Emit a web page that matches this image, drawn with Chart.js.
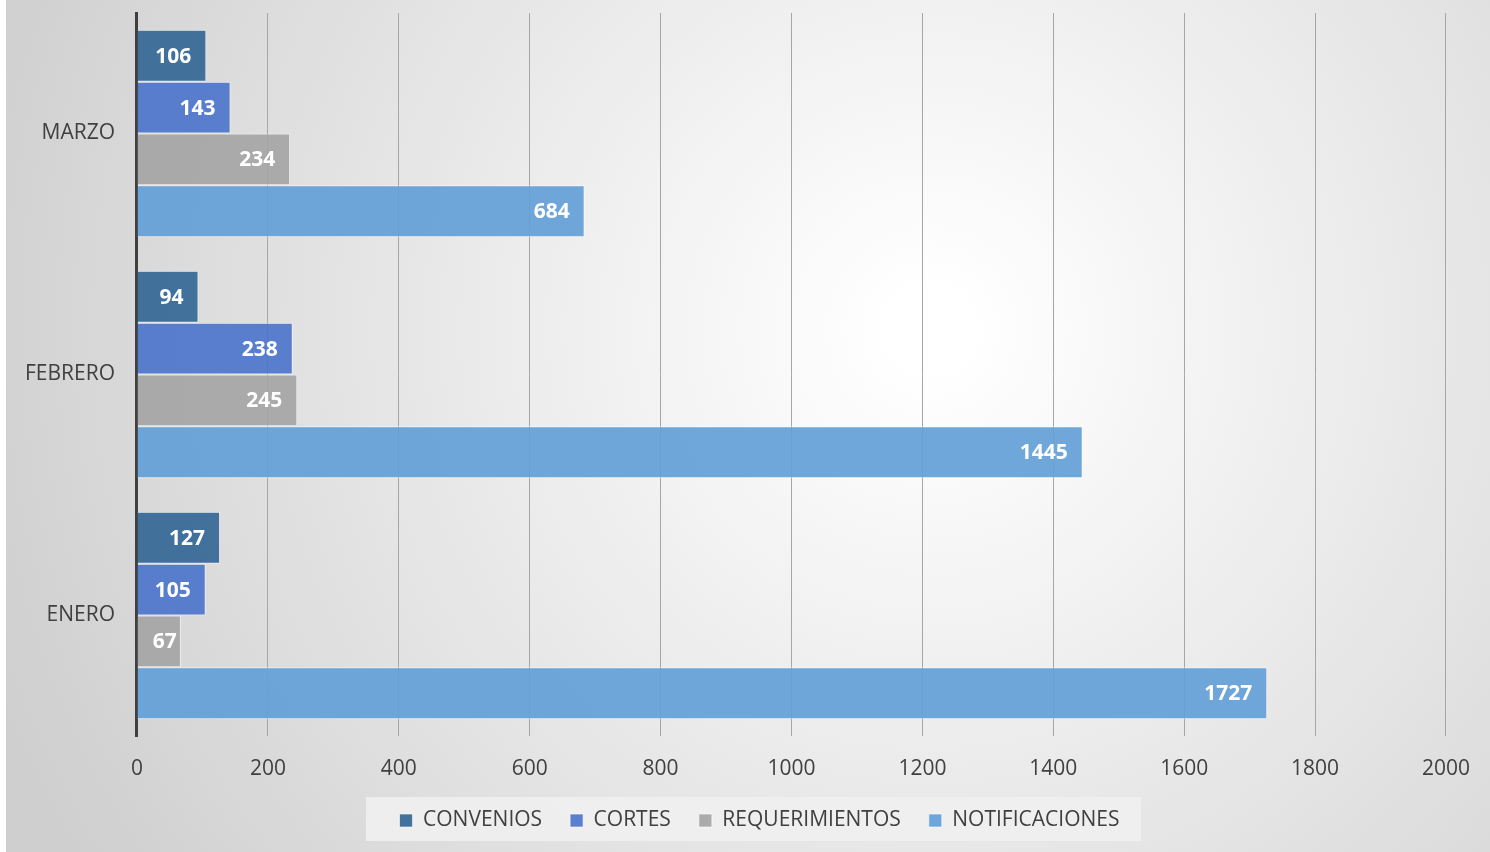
<!DOCTYPE html>
<html>
<head>
<meta charset="utf-8">
<script src="https://cdn.jsdelivr.net/npm/chart.js@4.4.1/dist/chart.umd.min.js"></script>
<style>
  html, body { margin: 0; padding: 0; background: #fff; }
  #wrap { width: 1490px; height: 852px; }
</style>
</head>
<body>
<div id="wrap"><canvas id="barChart"></canvas></div>
<script>
// data
var months = ["MARZO", "FEBRERO", "ENERO"];
var convenios = [106, 94, 127];
var cortes = [143, 238, 105];
var requerimientos = [234, 245, 67];
var notificaciones = [684, 1445, 1727];
var xTicks = [0, 200, 400, 600, 800, 1000, 1200, 1400, 1600, 1800, 2000];

var seriesColors = ["rgba(52,104,150,0.92)", "rgba(78,117,204,0.92)", "rgba(165,165,165,0.92)", "rgba(100,160,216,0.92)"];

// gradient background + legend box
const bgPlugin = {
  id: "bg",
  afterLayout(chart) {
    // nudge legend to the right like the original
    chart.legend.left += 31;
    chart.legend.right += 31;
  },
  beforeDraw(chart) {
    const ctx = chart.ctx;
    const w = chart.width, h = chart.height;
    ctx.save();
    const g = ctx.createRadialGradient(930, 330, 40, 930, 330, 1000);
    g.addColorStop(0, "#ffffff");
    g.addColorStop(1, "#cfcfcf");
    ctx.fillStyle = g;
    ctx.fillRect(6, 0, w - 6, h);
    ctx.fillStyle = "rgba(240,240,240,0.9)";
    ctx.fillRect(366, 797, 775, 44);
    ctx.restore();
  }
};

// white value labels at bar end
const labelPlugin = {
  id: "vals",
  afterDatasetsDraw(chart) {
    const ctx = chart.ctx;
    ctx.save();
    ctx.font = "bold 21px 'Open Sans'";
    ctx.fillStyle = "#ffffff";
    ctx.textAlign = "right";
    ctx.textBaseline = "middle";
    chart.data.datasets.forEach((ds, i) => {
      chart.getDatasetMeta(i).data.forEach((bar, j) => {
        const txt = String(ds.data[j]);
        const tw = ctx.measureText(txt).width;
        const x = Math.max(bar.x - 15, Math.min(bar.x - 4, bar.base + 16 + tw));
        ctx.fillText(txt, x, bar.y + 1);
      });
    });
    ctx.restore();
  }
};

new Chart("barChart", {
  type: "bar",
  data: {
    labels: months,
    datasets: [
      { label: "CONVENIOS", data: convenios, backgroundColor: seriesColors[0] },
      { label: "CORTES", data: cortes, backgroundColor: seriesColors[1] },
      { label: "REQUERIMIENTOS", data: requerimientos, backgroundColor: seriesColors[2] },
      { label: "NOTIFICACIONES", data: notificaciones, backgroundColor: seriesColors[3] }
    ]
  },
  options: {
    indexAxis: "y",
    responsive: true,
    maintainAspectRatio: false,
    animation: false,
    devicePixelRatio: 1,
    datasets: {
      bar: {
        categoryPercentage: 0.86,
        barPercentage: 1.0,
        borderColor: "rgba(255,255,255,0.6)",
        borderWidth: 1,
        borderSkipped: "left"
      }
    },
    layout: { padding: { top: 13, right: 36, bottom: 11, left: 3 } },
    scales: {
      x: {
        min: 0,
        max: 2000,
        afterBuildTicks(axis) { axis.ticks = xTicks.map(v => ({ value: v })); },
        afterFit(axis) { axis.height = 46; },
        grid: { color: "#a6a6a6", lineWidth: 1, drawTicks: false },
        border: { display: false },
        ticks: {
          color: "#404040",
          font: { size: 21, family: "'Open Sans'" },
          padding: 20,
          callback: (v) => String(v)
        }
      },
      y: {
        grid: { display: false, drawTicks: false },
        border: { display: true, color: "#404040", width: 3 },
        ticks: { color: "#404040", font: { size: 21, family: "'Open Sans'" }, padding: 22 },
        afterFit(axis) { axis.paddingTop = 0; axis.paddingBottom = 0; }
      }
    },
    plugins: {
      legend: {
        display: true,
        position: "bottom",
        labels: {
          color: "#404040",
          font: { size: 21, family: "'Open Sans'" },
          boxWidth: 13,
          boxHeight: 13,
          padding: 28
        }
      },
      tooltip: { enabled: false }
    }
  },
  plugins: [bgPlugin, labelPlugin]
});
</script>
</body>
</html>
